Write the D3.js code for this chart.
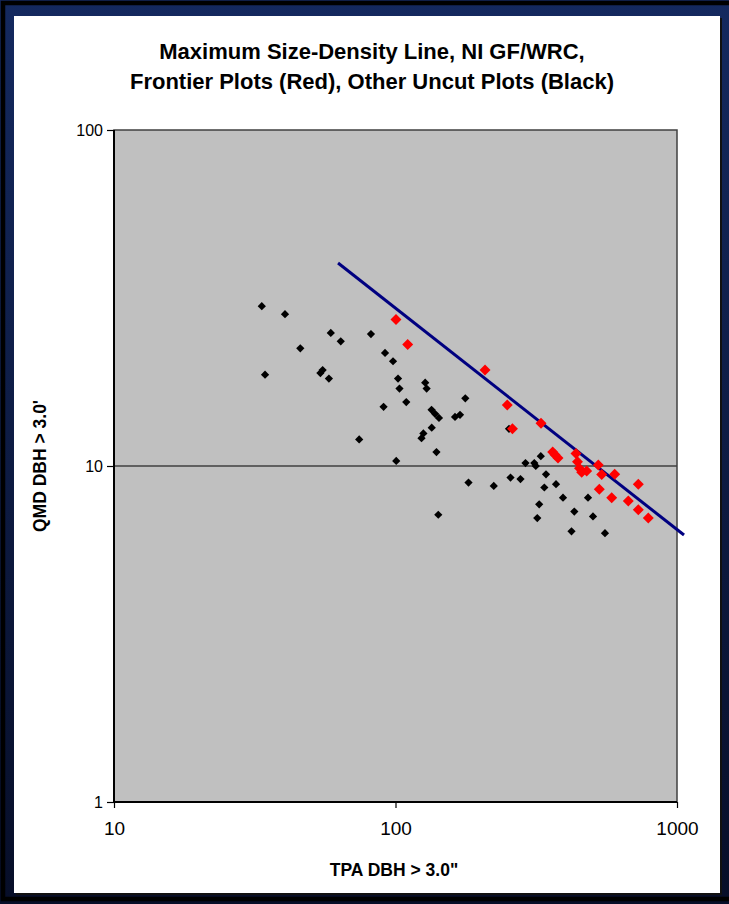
<!DOCTYPE html>
<html>
<head>
    <meta charset="utf-8">
    <title>Maximum Size-Density Line</title>
    <script src="https://d3js.org/d3.v7.min.js"></script>
    <style>
        html, body { margin: 0; padding: 0; background: #0b1a48; }
        svg { display: block; }
        text { font-family: "Liberation Sans", Arial, sans-serif; fill: #000; }
        .title { font-size: 22px; font-weight: bold; }
        .axisTitle { font-size: 17.5px; font-weight: bold; }
        .ytick text { font-size: 16px; }
        .xtick text { font-size: 19px; }
    </style>
</head>
<body>
    <svg width="729" height="904"></svg>
    <script>
        // uncut plots (black)
        var otherTPA = [33.5, 40.5, 58.9, 63.9, 45.9, 81.8, 91.8, 98.0, 34.4, 54.1, 55.1, 58.0,
            102.1, 103.3, 127.5, 129, 109.2, 90.7, 177, 134.3, 138.2, 142.7, 162.7, 169.5,
            134.5, 125.6, 123.7, 74.3, 139.8, 100.6, 181.7, 223.4, 141.9, 256.2, 278, 253,
            289.6, 311.2, 315, 328.2, 342.5, 371.7, 337.8, 393.6, 482.9, 323.9, 318.9, 431.7,
            503, 421.9, 554.8];
        var otherQMD = [29.9, 28.3, 24.9, 23.5, 22.4, 24.7, 21.7, 20.5, 18.7, 18.9, 19.3, 18.2,
            18.2, 17.0, 17.7, 17.0, 15.5, 15.0, 15.9, 14.7, 14.3, 13.9, 14.0, 14.2,
            13.0, 12.5, 12.1, 12.0, 11.0, 10.35, 8.93, 8.72, 7.16, 9.24, 9.14, 12.9,
            10.2, 10.2, 10.0, 10.7, 9.45, 8.83, 8.63, 8.05, 8.05, 7.69, 7.0, 7.32,
            7.08, 6.39, 6.31];

        // frontier plots (red)
        var frontierTPA = [100.4, 110.5, 208, 249.5, 260.3, 328.8, 361.7, 368.6, 377.8, 437.7,
            443.1, 450.4, 458.6, 477.7, 525.3, 540.1, 600.7, 529.7, 586.2, 671.4, 728.8, 728.8, 790.7];
        var frontierQMD = [27.3, 23.0, 19.3, 15.2, 12.9, 13.4, 11.0, 10.8, 10.56, 10.9,
            10.3, 9.84, 9.58, 9.66, 10.07, 9.43, 9.45, 8.53, 8.05, 7.87, 8.83, 7.41, 7.0];

        // max size-density line end points
        var lineTPA = [62.5, 1059];
        var lineQMD = [40.2, 6.23];

        var xTicks = [10, 100, 1000];
        var yTicks = [1, 10, 100];

        var svg = d3.select("svg");

        // slide background
        var grad = svg.append("defs").append("linearGradient")
            .attr("id", "bg").attr("x1", 0).attr("y1", 0).attr("x2", 0).attr("y2", 1);
        grad.append("stop").attr("offset", "0%").attr("stop-color", "#14295f");
        grad.append("stop").attr("offset", "100%").attr("stop-color", "#070e28");
        svg.append("rect").attr("width", 729).attr("height", 904).attr("fill", "url(#bg)");
        svg.append("rect").attr("x", 3).attr("y", 3).attr("width", 740).attr("height", 896)
            .attr("fill", "none").attr("stroke", "#000").attr("stroke-width", 4.5);

        // chart panel
        svg.append("rect").attr("x", 16).attr("y", 18).attr("width", 706).attr("height", 877)
            .attr("fill", "#111");
        svg.append("rect").attr("x", 14).attr("y", 16).attr("width", 706).attr("height", 877)
            .attr("fill", "#fff");

        var x = d3.scaleLog().domain([10, 1000]).range([114, 677]);
        var y = d3.scaleLog().domain([1, 100]).range([802, 130]);

        // plot area
        svg.append("rect")
            .attr("x", x(10)).attr("y", y(100))
            .attr("width", x(1000) - x(10)).attr("height", y(1) - y(100))
            .attr("fill", "#c0c0c0")
            .attr("stroke", "#404040").attr("stroke-width", 1.5);

        svg.append("line")
            .attr("x1", x(10)).attr("x2", x(1000))
            .attr("y1", y(10)).attr("y2", y(10))
            .attr("stroke", "#404040").attr("stroke-width", 1.5);

        // axes
        var yAxis = svg.append("g")
            .attr("class", "ytick")
            .attr("transform", "translate(" + x(10) + ",0)")
            .call(d3.axisLeft(y).tickValues(yTicks).tickFormat(d3.format("d")).tickSize(7).tickPadding(4));
        var xAxis = svg.append("g")
            .attr("class", "xtick")
            .attr("transform", "translate(0," + y(1) + ")")
            .call(d3.axisBottom(x).tickValues(xTicks).tickFormat(d3.format("d")).tickSize(6).tickPadding(14));
        svg.selectAll(".domain").attr("stroke", "#000").attr("stroke-width", 2);
        yAxis.select(".domain").attr("d", "M0," + y(1) + "V" + y(100));
        xAxis.select(".domain").attr("d", "M" + x(10) + ",0H" + x(1000));
        svg.selectAll(".tick line").attr("stroke", "#000").attr("stroke-width", 1.2);
        svg.selectAll(".tick text").attr("fill", "#000");

        // size-density line
        svg.append("line")
            .attr("x1", x(lineTPA[0])).attr("y1", y(lineQMD[0]))
            .attr("x2", x(lineTPA[1])).attr("y2", y(lineQMD[1]))
            .attr("stroke", "#000080").attr("stroke-width", 3);

        var other = otherTPA.map(function (d, i) { return { tpa: d, qmd: otherQMD[i] }; });
        var frontier = frontierTPA.map(function (d, i) { return { tpa: d, qmd: frontierQMD[i] }; });

        svg.append("g").selectAll("path")
            .data(other)
            .enter().append("path")
            .attr("d", d3.symbol(d3.symbolSquare, 34))
            .attr("transform", d => "translate(" + x(d.tpa) + "," + y(d.qmd) + ") rotate(45)")
            .attr("fill", "#000");

        svg.append("g").selectAll("path")
            .data(frontier)
            .enter().append("path")
            .attr("d", d3.symbol(d3.symbolSquare, 60))
            .attr("transform", d => "translate(" + x(d.tpa) + "," + y(d.qmd) + ") rotate(45)")
            .attr("fill", "#ff0000");

        // titles
        svg.append("text").attr("class", "title")
            .attr("x", 372).attr("y", 59).attr("text-anchor", "middle")
            .text("Maximum Size-Density Line, NI GF/WRC,");
        svg.append("text").attr("class", "title")
            .attr("x", 372).attr("y", 89).attr("text-anchor", "middle")
            .text("Frontier Plots (Red), Other Uncut Plots (Black)");

        svg.append("text").attr("class", "axisTitle")
            .attr("x", 394).attr("y", 876).attr("text-anchor", "middle")
            .text("TPA DBH > 3.0\"");
        svg.append("text").attr("class", "axisTitle")
            .attr("transform", "translate(46," + y(10) + ") rotate(-90)")
            .attr("text-anchor", "middle")
            .text("QMD DBH > 3.0'");
    </script>
</body>
</html>
